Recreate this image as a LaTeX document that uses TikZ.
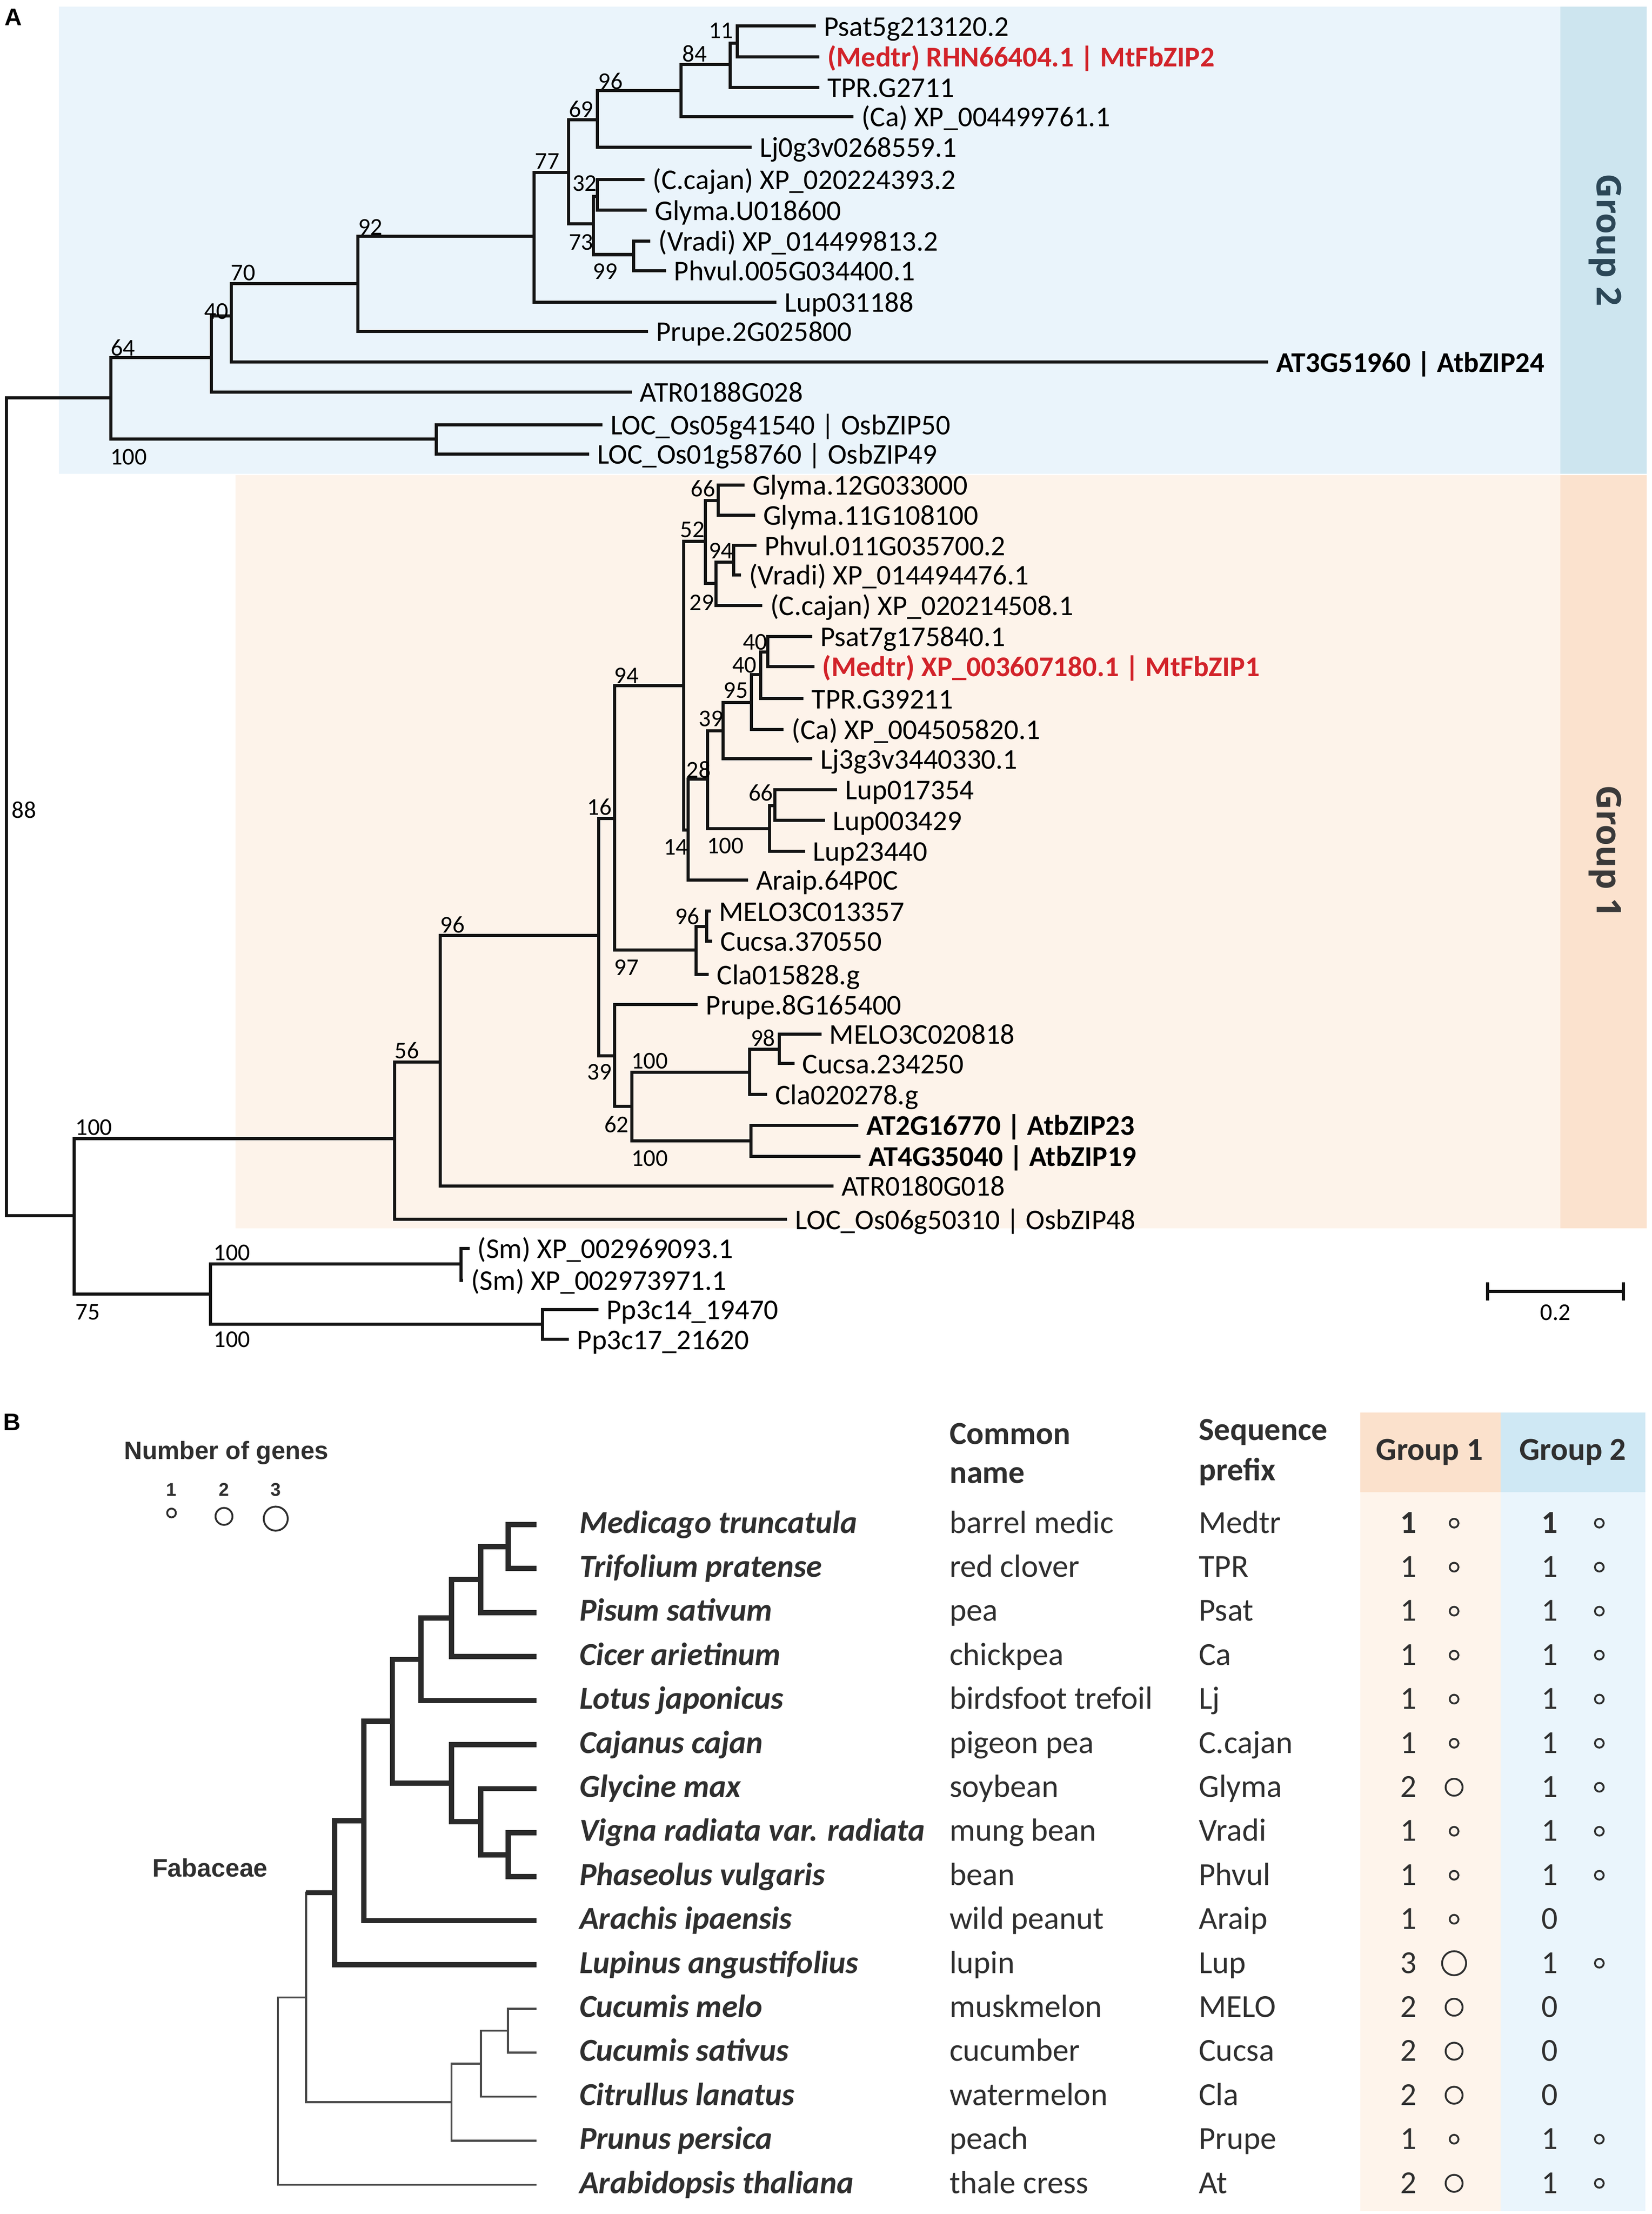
\documentclass[tikz,border=0pt]{standalone}
\usepackage{fontspec}
\setmainfont{Carlito}
\newfontfamily\arialf{Liberation Sans}
\newfontfamily\osans{Open Sans}
\definecolor{blueBg}{HTML}{EAF4FB}
\definecolor{blueStrip}{HTML}{CDE5EF}
\definecolor{pinkBg}{HTML}{FDF3EA}
\definecolor{pinkStrip}{HTML}{FBE2CE}
\definecolor{hdrPink}{HTML}{FBE1CC}
\definecolor{bodyPink}{HTML}{FEF4EB}
\definecolor{hdrBlue}{HTML}{CFE8F4}
\definecolor{bodyBlue}{HTML}{EAF5FC}
\definecolor{mtred}{HTML}{D2232A}
\definecolor{txtB}{HTML}{2F2F2F}
\definecolor{gtwotxt}{HTML}{2C4757}
\definecolor{gonetxt}{HTML}{3A3A3A}
\definecolor{thkcol}{HTML}{2A2A2A}
\definecolor{thncol}{HTML}{4A4A4A}
\tikzset{
  br/.style={line width=2.2pt, draw=black!92},
  lab/.style={anchor=base west, inner sep=0pt, xshift=5.5pt, yshift=-7pt, font=\fontsize{20.2}{21}\selectfont},
  labB/.style={lab, font=\fontsize{20.2}{21}\selectfont\bfseries},
  labR/.style={labB, text=mtred},
  bs/.style={inner sep=0pt, font=\fontsize{17}{18}\selectfont},
  thk/.style={line width=3.7pt, draw=thkcol},
  thn/.style={line width=1.5pt, draw=thncol},
  sp/.style={anchor=base west, inner sep=0pt, font=\fontsize{22.6}{24}\selectfont\bfseries\itshape, text=txtB},
  tb/.style={anchor=base west, inner sep=0pt, font=\fontsize{22.7}{24}\selectfont, text=txtB},
  tbh/.style={anchor=base west, inner sep=0pt, font=\fontsize{22.7}{24}\selectfont\bfseries, text=txtB},
  num/.style={anchor=base, inner sep=0pt, font=\fontsize{22.7}{24}\selectfont, text=txtB},
  cir/.style={circle, draw=txtB, line width=1.3pt, inner sep=0pt},
  panel/.style={anchor=north west, inner sep=0pt, font=\arialf\bfseries\fontsize{17}{18}\selectfont},
  grp/.style={rotate=-90, inner sep=0pt, font=\osans\bfseries\fontsize{24}{26}\selectfont}
}
\newcount\bsn
\newcommand\lf[5][lab]{\coordinate (#2) at (#3,#4); \node[#1] (#2t) at (#2) {#5};}
\newcommand\bsv[3]{\global\advance\bsn by 1 \node[bs] (bs\the\bsn) at (#1,#2) {#3};}
\newcommand\trow[9]{%
  \coordinate (tip#1) at (379.5,#2);
  \node[sp] (sp#1) at (409.6,#2+6) {#3};
  \node[tb] (cn#1) at (671.3,#2+6) {#4};
  \node[tb] (pf#1) at (847.6,#2+6) {#5};
  \node[num] (ga#1) at (995.9,#2+6) {#6};
  \ifdim #7pt>0pt \node[cir, minimum size=#7pt] (ca#1) at (1028.3,#2-1) {};\fi
  \node[num] (gb#1) at (1096,#2+6) {#8};
  \ifdim #9pt>0pt \node[cir, minimum size=#9pt] (cb#1) at (1131,#2-1) {};\fi
}
\begin{document}
\begin{tikzpicture}[x=1pt,y=-1pt]
\useasboundingbox (0,0) rectangle (1168,1565.2);
% ---------- panel A backgrounds
\fill[blueBg] (41.7,4.8) rectangle (1103.5,335);
\fill[blueStrip] (1103.5,4.8) rectangle (1164.5,335);
\fill[pinkBg] (166.6,336) rectangle (1103.5,868.3);
\fill[pinkStrip] (1103.5,336) rectangle (1164.5,868.3);
\node[grp, text=gtwotxt] (grp2) at (1135,169.7) {Group 2};
\node[grp, text=gonetxt] (grp1) at (1135,602) {Group 1};
\node[panel] (pA) at (3,6) {A};
% ---------- panel A internal nodes
\coordinate (R) at (4.5,570);
\coordinate (a64) at (78.4,281.3);
\coordinate (aOs) at (308.6,310.5);
\coordinate (a40) at (149.6,252.7);
\coordinate (a70) at (163.6,223.4);
\coordinate (a92) at (253,200.6);
\coordinate (a77) at (377.6,167);
\coordinate (a69) at (402.2,121.9);
\coordinate (a96) at (422.3,84.6);
\coordinate (a84) at (481.7,64.0);
\coordinate (aX) at (516.2,45.5);
\coordinate (aY) at (521.4,30.4);
\coordinate (a73) at (419.6,158.3);
\coordinate (a32) at (422.3,138.8);
\coordinate (a99) at (448,180);
\coordinate (a75) at (52.3,859.3);
\coordinate (g56) at (279.1,805.1);
\coordinate (g96) at (311.3,750.9);
\coordinate (g16) at (423.4,661.4);
\coordinate (g94) at (434.7,578.7);
\coordinate (g94b) at (483.6,484.8);
\coordinate (g52) at (498.8,382.6);
\coordinate (g66a) at (507.8,353.8);
\coordinate (g29) at (506.3,412.5);
\coordinate (g94c) at (518.9,397.3);
\coordinate (g14) at (486.7,586.7);
\coordinate (g28) at (500.3,550.7);
\coordinate (g39a) at (511.4,516.6);
\coordinate (g95) at (531.5,496.7);
\coordinate (g40b) at (538.1,476.9);
\coordinate (g40a) at (543.1,460.8);
\coordinate (g100c) at (544.1,585.7);
\coordinate (g66b) at (548.1,569.6);
\coordinate (g97) at (492.3,671.7);
\coordinate (g96b) at (499.9,655);
\coordinate (g39) at (434.7,746.3);
\coordinate (g62) at (446.9,782.1);
\coordinate (g100a) at (530.2,758.1);
\coordinate (g98) at (551,741.8);
\coordinate (g100b) at (531,806.5);
\coordinate (nSP) at (149,915);
\coordinate (nSm) at (326,893.5);
\coordinate (nPp) at (383.6,936);
% ---------- panel A leaves
\lf{Psat5}{576.9}{18.4}{Psat5g213120.2}
\lf[labR]{MtF2}{579.4}{40.1}{(Medtr) RHN66404.1 | MtFbZIP2}
\lf{TPR2}{579.4}{61.8}{TPR.G2711}
\lf{Ca2}{603.6}{82.4}{(Ca) XP\_004499761.1}
\lf{Lj2}{531.5}{104.1}{Lj0g3v0268559.1}
\lf{Cc2}{455.9}{126.9}{(C.cajan) XP\_020224393.2}
\lf{Gm2}{457.4}{148.6}{Glyma.U018600}
\lf{Vr2}{460}{170.3}{(Vradi) XP\_014499813.2}
\lf{Pv2}{471}{191.3}{Phvul.005G034400.1}
\lf{Lup2}{549.2}{213.6}{Lup031188}
\lf{Pp2}{458.4}{234.3}{Prupe.2G025800}
\lf[labB]{At24}{897}{256}{AT3G51960 | AtbZIP24}
\lf{ATR2}{446.9}{277.2}{ATR0188G028}
\lf{Os50}{426}{300.4}{LOC\_Os05g41540 | OsbZIP50}
\lf{Os49}{416.6}{321}{LOC\_Os01g58760 | OsbZIP49}
\lf{Gm12}{526.5}{342.8}{Glyma.12G033000}
\lf{Gm11}{534}{364.2}{Glyma.11G108100}
\lf{Pv11}{535}{385.6}{Phvul.011G035700.2}
\lf{Vr1}{524}{406.4}{(Vradi) XP\_014494476.1}
\lf{Cc1}{539.1}{428}{(C.cajan) XP\_020214508.1}
\lf{Ps7}{574.4}{450}{Psat7g175840.1}
\lf[labR]{MtF1}{575.9}{471.2}{(Medtr) XP\_003607180.1 | MtFbZIP1}
\lf{TPR1}{568.3}{493.9}{TPR.G39211}
\lf{Ca1}{554.2}{515.7}{(Ca) XP\_004505820.1}
\lf{Lj1}{574.4}{536.5}{Lj3g3v3440330.1}
\lf{L17}{592}{558.3}{Lup017354}
\lf{L03}{583.4}{580}{Lup003429}
\lf{L23}{569.3}{601.8}{Lup23440}
\lf{Ar}{529}{622.2}{Araip.64P0C}
\lf{ME13}{502.8}{644.2}{MELO3C013357}
\lf{Cu37}{503.8}{665.4}{Cucsa.370550}
\lf{Cl15}{501.3}{688.9}{Cla015828.g}
\lf{Pr8}{493.5}{710.2}{Prupe.8G165400}
\lf{ME20}{580.9}{731}{MELO3C020818}
\lf{Cu23}{561.8}{751.8}{Cucsa.234250}
\lf{Cl20}{542.6}{773.8}{Cla020278.g}
\lf[labB]{At23}{607.1}{795.5}{AT2G16770 | AtbZIP23}
\lf[labB]{At19}{608.6}{817.4}{AT4G35040 | AtbZIP19}
\lf{ATR1}{589.5}{838.5}{ATR0180G018}
\lf{Os48}{556.7}{862}{LOC\_Os06g50310 | OsbZIP48}
\lf{Sm1}{332}{882.5}{(Sm) XP\_002969093.1}
\lf{Sm2}{327.5}{905}{(Sm) XP\_002973971.1}
\lf{Pp14}{423.2}{925.7}{Pp3c14\_19470}
\lf{Pp17}{402.4}{946.9}{Pp3c17\_21620}
% ---------- panel A branches
\foreach \p/\c in {R/a64,R/a75,a64/a40,a64/aOs,aOs/Os50,aOs/Os49,a40/a70,a40/ATR2,
  a70/a92,a70/At24,a92/a77,a92/Pp2,a77/a69,a77/Lup2,a69/a96,a69/a73,a96/a84,a96/Lj2,
  a84/aX,a84/Ca2,aX/aY,aX/TPR2,aY/Psat5,aY/MtF2,a73/a32,a73/a99,a32/Cc2,a32/Gm2,
  a99/Vr2,a99/Pv2,
  a75/g56,a75/nSP,g56/g96,g56/Os48,g96/g16,g96/ATR1,g16/g94,g16/g39,g94/g94b,g94/g97,
  g94b/g52,g94b/g14,g52/g66a,g52/g29,g66a/Gm12,g66a/Gm11,g29/g94c,g29/Cc1,g94c/Pv11,
  g94c/Vr1,g14/g28,g14/Ar,g28/g39a,g28/g100c,g39a/g95,g39a/Lj1,g95/g40b,g95/Ca1,
  g40b/g40a,g40b/TPR1,g40a/Ps7,g40a/MtF1,g100c/g66b,g100c/L23,g66b/L17,g66b/L03,
  g97/g96b,g97/Cl15,g96b/ME13,g96b/Cu37,g39/Pr8,g39/g62,g62/g100a,g62/g100b,
  g100a/g98,g100a/Cl20,g98/ME20,g98/Cu23,g100b/At23,g100b/At19,
  nSP/nSm,nSP/nPp,nSm/Sm1,nSm/Sm2,nPp/Pp14,nPp/Pp17}
  \draw[br] (\p) |- (\c);
% ---------- bootstrap values
\bsv{509.8}{21.7}{11}
\bsv{491.2}{38}{84}
\bsv{431.7}{57.5}{96}
\bsv{411}{77}{69}
\bsv{387}{114}{77}
\bsv{413.5}{129.7}{32}
\bsv{411}{171.3}{73}
\bsv{428}{192}{99}
\bsv{262}{160.5}{92}
\bsv{172}{193}{70}
\bsv{153}{220}{40}
\bsv{87}{246}{64}
\bsv{91}{323}{100}
\bsv{17}{572.5}{88}
\bsv{497.2}{345.3}{66}
\bsv{489.7}{374.3}{52}
\bsv{509.8}{389.4}{94}
\bsv{496.2}{426.1}{29}
\bsv{534}{453.8}{40}
\bsv{526.5}{470.2}{40}
\bsv{520.4}{488.2}{95}
\bsv{443}{477.8}{94}
\bsv{502.8}{508.1}{39}
\bsv{494}{544}{28}
\bsv{538}{560.5}{66}
\bsv{424}{570.6}{16}
\bsv{478}{599}{14}
\bsv{512.9}{598}{100}
\bsv{486}{647.9}{96}
\bsv{443}{684}{97}
\bsv{320}{653.8}{96}
\bsv{539.6}{733.7}{98}
\bsv{459.4}{750}{100}
\bsv{424}{758}{39}
\bsv{436}{795}{62}
\bsv{459.4}{819}{100}
\bsv{287.8}{742.7}{56}
\bsv{66.3}{797}{100}
\bsv{164}{885.5}{100}
\bsv{62}{927.5}{75}
\bsv{164}{947}{100}
% ---------- scale bar
\coordinate (sb1) at (1052,913);
\coordinate (sb2) at (1148,913);
\draw[br,line width=2pt] (sb1) -- (sb2);
\draw[br,line width=2pt] ([yshift=6.5pt]sb1) -- ([yshift=-6.5pt]sb1);
\draw[br,line width=2pt] ([yshift=6.5pt]sb2) -- ([yshift=-6.5pt]sb2);
\node[bs] (sblab) at (1100,928) {0.2};
% ---------- panel B backgrounds
\fill[hdrPink] (962,998.6) rectangle (1061.1,1055);
\fill[hdrBlue] (1061.1,998.6) rectangle (1163.4,1055);
\fill[bodyPink] (962,1055) rectangle (1061.1,1563);
\fill[bodyBlue] (1061.1,1055) rectangle (1163.4,1563);
\node[panel] (pB) at (2,999.5) {B};
\node[font=\arialf\bfseries\fontsize{17.7}{19}\selectfont, text=txtB, inner sep=0pt] (nog) at (160,1027) {Number of genes};
\node[font=\arialf\bfseries\fontsize{13}{14}\selectfont, text=txtB, inner sep=0pt] (lg1) at (121.3,1053) {1};
\node[font=\arialf\bfseries\fontsize{13}{14}\selectfont, text=txtB, inner sep=0pt] (lg2) at (158.4,1053) {2};
\node[font=\arialf\bfseries\fontsize{13}{14}\selectfont, text=txtB, inner sep=0pt] (lg3) at (195,1053) {3};
\node[cir, minimum size=6.2pt] (lc1) at (121.3,1069.6) {};
\node[cir, minimum size=12pt] (lc2) at (158.4,1072) {};
\node[cir, minimum size=17pt] (lc3) at (195,1073.6) {};
\node[font=\arialf\bfseries\fontsize{17.9}{19}\selectfont, text=txtB, inner sep=0pt] (fab) at (148.5,1320.5) {Fabaceae};
% headers
\node[tbh] (hc1) at (671.3,1021) {Common};
\node[tbh] (hc2) at (671.3,1048.4) {name};
\node[tbh] (hp1) at (847.6,1018.1) {Sequence};
\node[tbh] (hp2) at (847.6,1046.5) {prefix};
\node[tbh, anchor=base] (hg1) at (1010.9,1032.3) {Group 1};
\node[tbh, anchor=base] (hg2) at (1112.1,1032.3) {Group 2};
% rows
\trow{0}{1077.8}{Medicago truncatula}{barrel medic}{Medtr}{\bfseries 1}{6.2}{\bfseries 1}{6.2}
\trow{1}{1108.9}{Trifolium pratense}{red clover}{TPR}{1}{6.2}{1}{6.2}
\trow{2}{1140.0}{Pisum sativum}{pea}{Psat}{1}{6.2}{1}{6.2}
\trow{3}{1171.1}{Cicer arietinum}{chickpea}{Ca}{1}{6.2}{1}{6.2}
\trow{4}{1202.2}{Lotus japonicus}{birdsfoot trefoil}{Lj}{1}{6.2}{1}{6.2}
\trow{5}{1233.4}{Cajanus cajan}{pigeon pea}{C.cajan}{1}{6.2}{1}{6.2}
\trow{6}{1264.5}{Glycine max}{soybean}{Glyma}{2}{12}{1}{6.2}
\trow{7}{1295.6}{Vigna radiata var. radiata}{mung bean}{Vradi}{1}{6.2}{1}{6.2}
\trow{8}{1326.7}{Phaseolus vulgaris}{bean}{Phvul}{1}{6.2}{1}{6.2}
\trow{9}{1357.8}{Arachis ipaensis}{wild peanut}{Araip}{1}{6.2}{0}{0}
\trow{10}{1388.9}{Lupinus angustifolius}{lupin}{Lup}{3}{17}{1}{6.2}
\trow{11}{1420.0}{Cucumis melo}{muskmelon}{MELO}{2}{12}{0}{0}
\trow{12}{1451.1}{Cucumis sativus}{cucumber}{Cucsa}{2}{12}{0}{0}
\trow{13}{1482.2}{Citrullus lanatus}{watermelon}{Cla}{2}{12}{0}{0}
\trow{14}{1513.3}{Prunus persica}{peach}{Prupe}{1}{6.2}{1}{6.2}
\trow{15}{1544.5}{Arabidopsis thaliana}{thale cress}{At}{2}{12}{1}{6.2}
% tree B internal nodes
\coordinate (bMT) at (359.3,1093.4);
\coordinate (bMTP) at (340,1116.7);
\coordinate (bC) at (319.3,1143.9);
\coordinate (bL) at (297.8,1173.1);
\coordinate (bVP) at (359.3,1311.2);
\coordinate (bGVP) at (340,1287.8);
\coordinate (bCGVP) at (319.3,1260.6);
\coordinate (bGM) at (277.5,1216.8);
\coordinate (bA) at (257.3,1287.3);
\coordinate (bLup) at (236.7,1338.1);
\coordinate (bCm) at (359.3,1435.6);
\coordinate (bCuc) at (340,1458.9);
\coordinate (bRos) at (319.3,1486.1);
\coordinate (bEud) at (216.4,1412.1);
\coordinate (bRoot) at (196.6,1478.3);
\foreach \p/\c in {bEud/bLup,bEud/bRos,bRos/bCuc,bRos/tip14,bCuc/bCm,bCuc/tip13,
  bCm/tip11,bCm/tip12,bRoot/bEud,bRoot/tip15}
  \draw[thn] (\p) |- (\c);
\foreach \p/\c in {bMT/tip0,bMT/tip1,bMTP/bMT,bMTP/tip2,bC/bMTP,bC/tip3,bL/bC,bL/tip4,
  bGM/bL,bGM/bCGVP,bCGVP/tip5,bCGVP/bGVP,bGVP/tip6,bGVP/bVP,bVP/tip7,bVP/tip8,
  bA/bGM,bA/tip9,bLup/bA,bLup/tip10}
  \draw[thk] (\p) |- (\c);
\draw[thk] (bEud |- bLup) -- (bLup);
\end{tikzpicture}
\end{document}
